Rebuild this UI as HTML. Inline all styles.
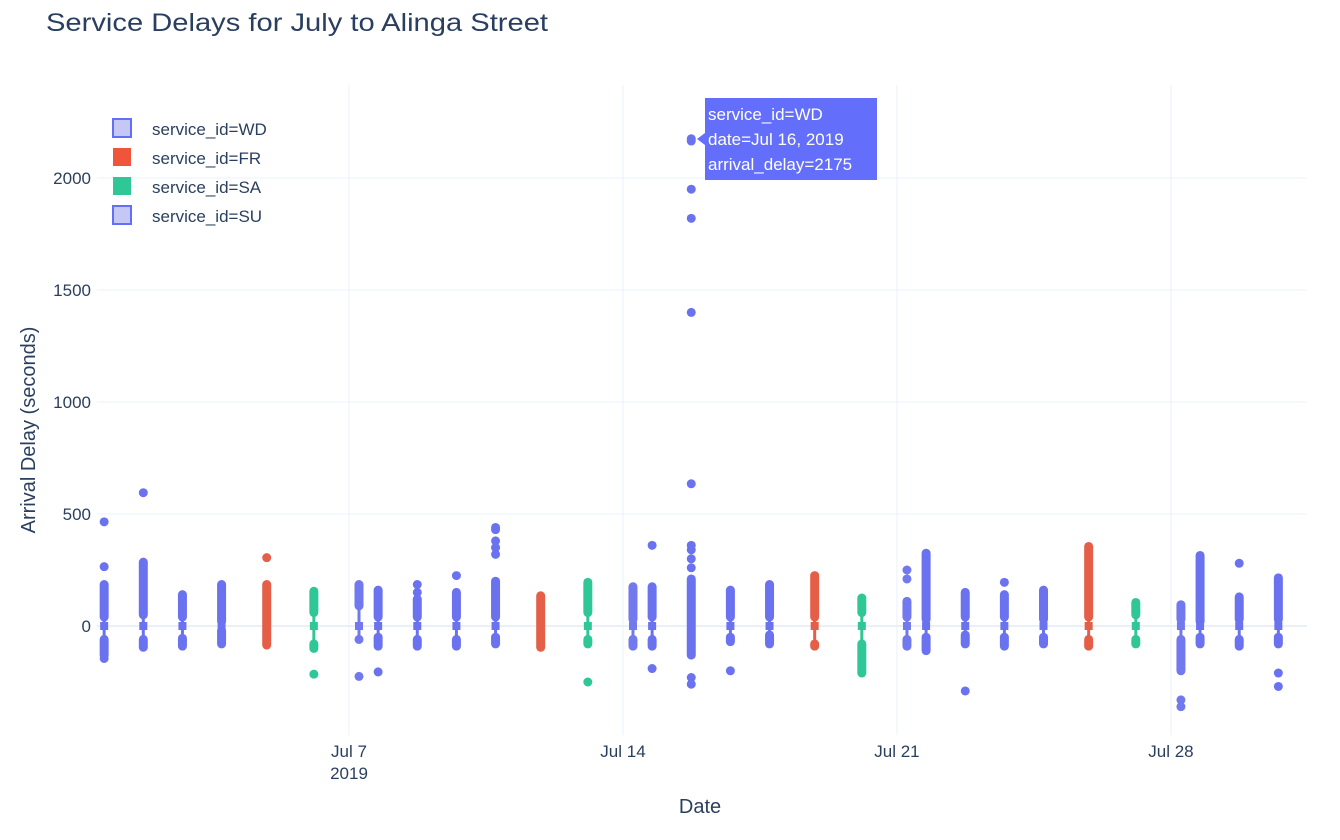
<!DOCTYPE html>
<html><head><meta charset="utf-8"><style>
body{margin:0;background:#fff;font-family:"Liberation Sans",sans-serif;}
svg text{font-family:"Liberation Sans",sans-serif;fill:#2a3f5f;}
</style></head><body>
<svg id="chart" width="1340" height="835" xmlns="http://www.w3.org/2000/svg">
<text x="46" y="31" font-size="25" textLength="502" lengthAdjust="spacingAndGlyphs">Service Delays for July to Alinga Street</text>
<g id="grid"></g><g id="marks"></g><g id="axes"></g>
<text x="700" y="813" font-size="20" text-anchor="middle">Date</text>
<text transform="translate(35,430) rotate(-90)" font-size="20" text-anchor="middle">Arrival Delay (seconds)</text>
<g>
<rect x="113" y="119" width="18" height="18" fill="#c5c8f5" stroke="#636efa" stroke-width="2"/>
<text x="152" y="135" font-size="17">service_id=WD</text>
<rect x="113" y="148" width="18" height="18" fill="#EF553B"/>
<text x="152" y="164" font-size="17">service_id=FR</text>
<rect x="113" y="177" width="18" height="18" fill="#2fc796"/>
<text x="152" y="193" font-size="17">service_id=SA</text>
<rect x="113" y="206" width="18" height="18" fill="#c5c8f5" stroke="#636efa" stroke-width="2"/>
<text x="152" y="222" font-size="17">service_id=SU</text>
</g>
<g>
<polygon points="697,139 705,133 705,145" fill="#636efa"/>
<rect x="705" y="98" width="172" height="82" fill="#636efa"/>
<text x="708" y="120" font-size="17" style="fill:#fff">service_id=WD</text>
<text x="708" y="145" font-size="17" style="fill:#fff">date=Jul 16, 2019</text>
<text x="708" y="170" font-size="17" style="fill:#fff">arrival_delay=2175</text>
</g>
</svg>
<script>
const days=[1,2,3,4,5,6,7,8,9,10,11,12,13,14,15,16,17,18,19,20,21,22,23,24,25,26,27,28,29,30,31];
const services=["WD","WD","WD","WD","FR","SA","SU","WD","WD","WD","WD","FR","SA","SU","WD","WD","WD","WD","FR","SA","SU","WD","WD","WD","WD","FR","SA","SU","WD","WD","WD"];
const bodies=[[[-130,-60],[40,185]],[[-95,-60],[50,285]],[[-90,-55],[40,140]],[[-80,-20],[20,185]],[[-85,185]],[[-100,-80],[60,155]],[[-60,-60],[90,185]],[[-90,-50],[40,160]],[[-90,-60],[40,120]],[[-90,-60],[40,150]],[[-80,-50],[40,200]],[[-95,135]],[[-80,-60],[60,195]],[[-90,-60],[30,175]],[[-90,-60],[40,175]],[[-130,210]],[[-70,-50],[40,160]],[[-80,-40],[40,185]],[[-90,-80],[40,225]],[[-210,-80],[60,125]],[[-90,-60],[40,110]],[[-110,-50],[30,325]],[[-80,-40],[40,150]],[[-90,-50],[40,140]],[[-80,-50],[30,160]],[[-90,-60],[40,355]],[[-80,-60],[50,105]],[[-200,-60],[30,95]],[[-80,-50],[20,315]],[[-90,-60],[30,130]],[[-80,-50],[30,215]]];
const outliers=[[-145,265,465],[595],[],[],[305],[-215],[-225],[-205],[150,185],[225],[320,350,380,430,440],[],[-250],[],[-190,360],[-230,-260,260,300,340,360,635,1400,1820,1950,2165,2175],[-200],[],[],[],[210,250],[],[-290],[195],[],[],[],[-330,-360],[],[280],[-210,-270]];
const yTicks=[0,500,1000,1500,2000];
const xTickDays=[7,14,21,28];
const xTickLabels=["Jul 7","Jul 14","Jul 21","Jul 28"];
const colors={WD:"#6a72f0",FR:"#e55e48",SA:"#2fc796",SU:"#7279ee"};
const offsets={WD:-10,FR:-4,SA:4,SU:10};
const NS="http://www.w3.org/2000/svg";
const X=d=>349+(d-7)*39.14, Y=v=>626-v*0.224;
const L=97,R=1307;
function mk(tag,attrs,parent){const e=document.createElementNS(NS,tag);for(const k in attrs)e.setAttribute(k,attrs[k]);parent.appendChild(e);return e;}
const grid=document.getElementById('grid'),marks=document.getElementById('marks'),axes=document.getElementById('axes');
yTicks.forEach(t=>{
 const l=mk('line',{x1:L,x2:R,y1:Y(t),y2:Y(t),stroke:"#ebf0f8","stroke-width":t===0?2:1},grid);
 
 
 const tx=mk('text',{x:91,y:Y(t)+6,"font-size":17,"text-anchor":"end"},axes);tx.textContent=t;
 
 
});
xTickDays.forEach((d,i)=>{
 const l=mk('line',{x1:X(d),x2:X(d),y1:85,y2:735,stroke:"#ebf0f8","stroke-width":1},grid);
 
 
 const tx=mk('text',{x:X(d),y:757,"font-size":17,"text-anchor":"middle"},axes);tx.textContent=xTickLabels[i];
 
 
});
const yr=mk('text',{x:X(7),y:779,"font-size":17,"text-anchor":"middle"},axes);yr.textContent="2019";


days.forEach((d,i)=>{
 const s=services[i],c=colors[s],x=X(d)+offsets[s];
 const g=mk('g',{},marks);
 
 
 const b=bodies[i];
 const lo=b[0][0],hi=b[b.length-1][1];
 mk('line',{x1:x,x2:x,y1:Y(lo),y2:Y(hi),stroke:c,"stroke-width":3},g);
 b.forEach(sg=>mk('rect',{x:x-4.5,y:Y(sg[1])-4.5,width:9,height:Y(sg[0])-Y(sg[1])+9,rx:4.5,fill:c},g));
 mk('rect',{x:x-4,y:Y(0)-4,width:8,height:8,fill:c},g);
 outliers[i].forEach(v=>{const p=mk('circle',{cx:x,cy:Y(v),r:4.5,fill:c},g);
  
  });
});
</script>
</body></html>
